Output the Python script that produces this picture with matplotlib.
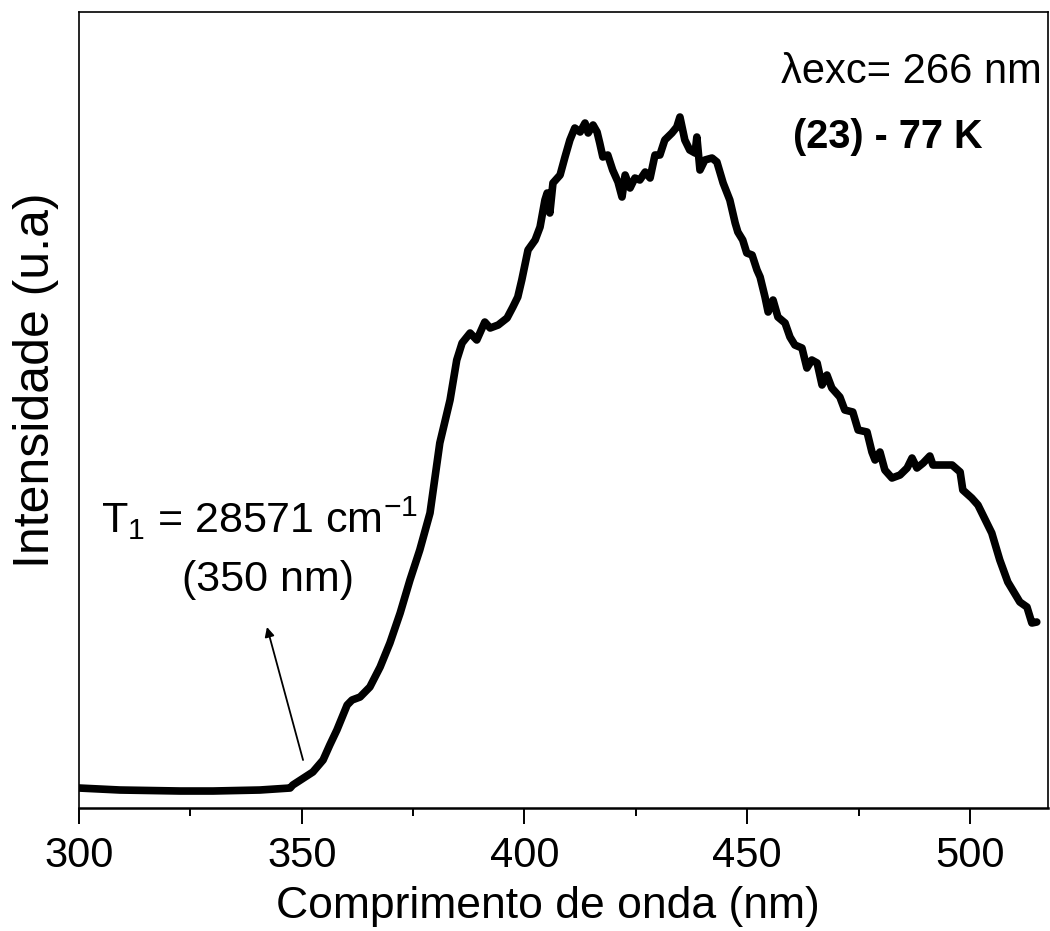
import matplotlib
matplotlib.use("Agg")
import matplotlib.pyplot as plt
from matplotlib.ticker import MultipleLocator

plt.rcParams["font.family"] = ["Liberation Sans", "DejaVu Sans"]
plt.rcParams["mathtext.fontset"] = "custom"
plt.rcParams["mathtext.rm"] = "Liberation Sans"
plt.rcParams["mathtext.it"] = "Liberation Sans"

# emission spectrum (nm, arb. units)
wavelength = [300.0, 309.2, 322.7, 330.1, 340.6, 347.4, 348.0, 352.5, 354.8, 356.3,
              357.9, 360.2, 361.3, 363.1, 365.3, 367.6, 369.8, 372.1, 374.3, 376.5,
              378.8, 381.0, 383.3, 384.8, 386.0, 387.8, 389.3, 391.1, 392.3, 394.1,
              396.1, 397.4, 398.5, 399.4, 400.8, 402.4, 403.5, 404.6, 405.1, 405.7,
              406.4, 408.0, 409.1, 410.2, 411.3, 412.5, 413.6, 414.3, 415.4, 416.3,
              416.9, 417.6, 418.7, 419.8, 421.0, 421.9, 422.6, 423.7, 424.8, 425.9,
              427.1, 428.2, 429.3, 430.4, 431.5, 433.1, 434.2, 434.9, 436.0, 437.1,
              438.3, 438.7, 439.4, 440.5, 442.1, 443.2, 444.6, 446.1, 447.3, 447.9,
              449.0, 449.9, 451.1, 452.2, 452.9, 454.0, 454.7, 455.8, 456.9, 458.5,
              459.6, 460.7, 462.3, 463.4, 464.5, 465.7, 466.8, 467.9, 469.0, 470.8,
              471.9, 473.7, 474.9, 476.9, 478.0, 478.7, 479.8, 480.9, 482.5, 484.3,
              485.9, 487.0, 488.1, 489.5, 491.0, 491.7, 493.3, 496.0, 497.8, 498.4,
              500.4, 501.8, 503.8, 504.9, 506.7, 508.5, 511.2, 512.8, 513.9, 515.0]
intensity = [20, 18, 17, 17, 18, 20, 23, 36, 48, 63,
             78, 103, 108, 111, 121, 141, 165, 195, 228, 258,
             295, 365, 408, 448, 465, 475, 468, 486, 480, 483,
             490, 501, 511, 528, 558, 568, 581, 608, 615, 595,
             625, 633, 651, 668, 680, 676, 685, 675, 683, 676,
             665, 651, 653, 638, 626, 611, 633, 620, 630, 628,
             636, 630, 653, 653, 668, 675, 681, 691, 668, 658,
             655, 671, 638, 648, 650, 646, 625, 608, 585, 576,
             568, 555, 553, 538, 531, 511, 496, 508, 491, 485,
             471, 463, 460, 440, 448, 445, 423, 433, 420, 411,
             398, 396, 378, 376, 356, 348, 356, 338, 330, 333,
             340, 350, 340, 345, 352, 343, 343, 343, 336, 318,
             310, 303, 285, 275, 248, 226, 206, 201, 185, 186]

fig = plt.figure(figsize=(10.5, 9.31), dpi=100)
ax = fig.add_axes([0.0752, 0.1321, 0.9228, 0.8550])
ax.plot(wavelength, intensity, color="black", lw=5.5, solid_joinstyle="round",
        solid_capstyle="round")

ax.set_xlim(300, 517.5)
ax.set_ylim(0, 796)
ax.xaxis.set_major_locator(MultipleLocator(50))
ax.xaxis.set_minor_locator(MultipleLocator(25))
ax.tick_params(axis="x", which="major", direction="out", length=11.5, width=1.4,
               labelsize=30, pad=9)
ax.tick_params(axis="x", which="minor", direction="out", length=6, width=1.4)
ax.tick_params(axis="y", left=False, labelleft=False)
for s in ax.spines.values():
    s.set_linewidth(1.2)
ax.spines["bottom"].set_linewidth(1.8)

ax.set_xlabel("Comprimento de onda (nm)", fontsize=32)
ax.xaxis.set_label_coords(0.484, -0.098)
ax.set_ylabel("Intensidade (u.a)", fontsize=36)
ax.yaxis.set_label_coords(-0.021, 0.538)

ax.text(0.725, 0.925, "\u03bbexc= 266 nm", transform=ax.transAxes, fontsize=30,
        ha="left", va="center")
ax.text(0.737, 0.843, "(23) - 77 K", transform=ax.transAxes, fontsize=28.5,
        fontweight="bold", ha="left", va="center")

ax.text(305, 290, r"T$_1$ = 28571 cm$^{-1}$", fontsize=31, ha="left", va="center")
ax.text(342.5, 228, "(350 nm)", fontsize=31, ha="center", va="center")
ax.annotate("", xy=(342.2, 181), xytext=(350.3, 48),
            arrowprops=dict(arrowstyle="-|>", color="black", lw=1.3,
                            mutation_scale=14, shrinkA=0, shrinkB=0))

fig.savefig("out.png", dpi=100)
